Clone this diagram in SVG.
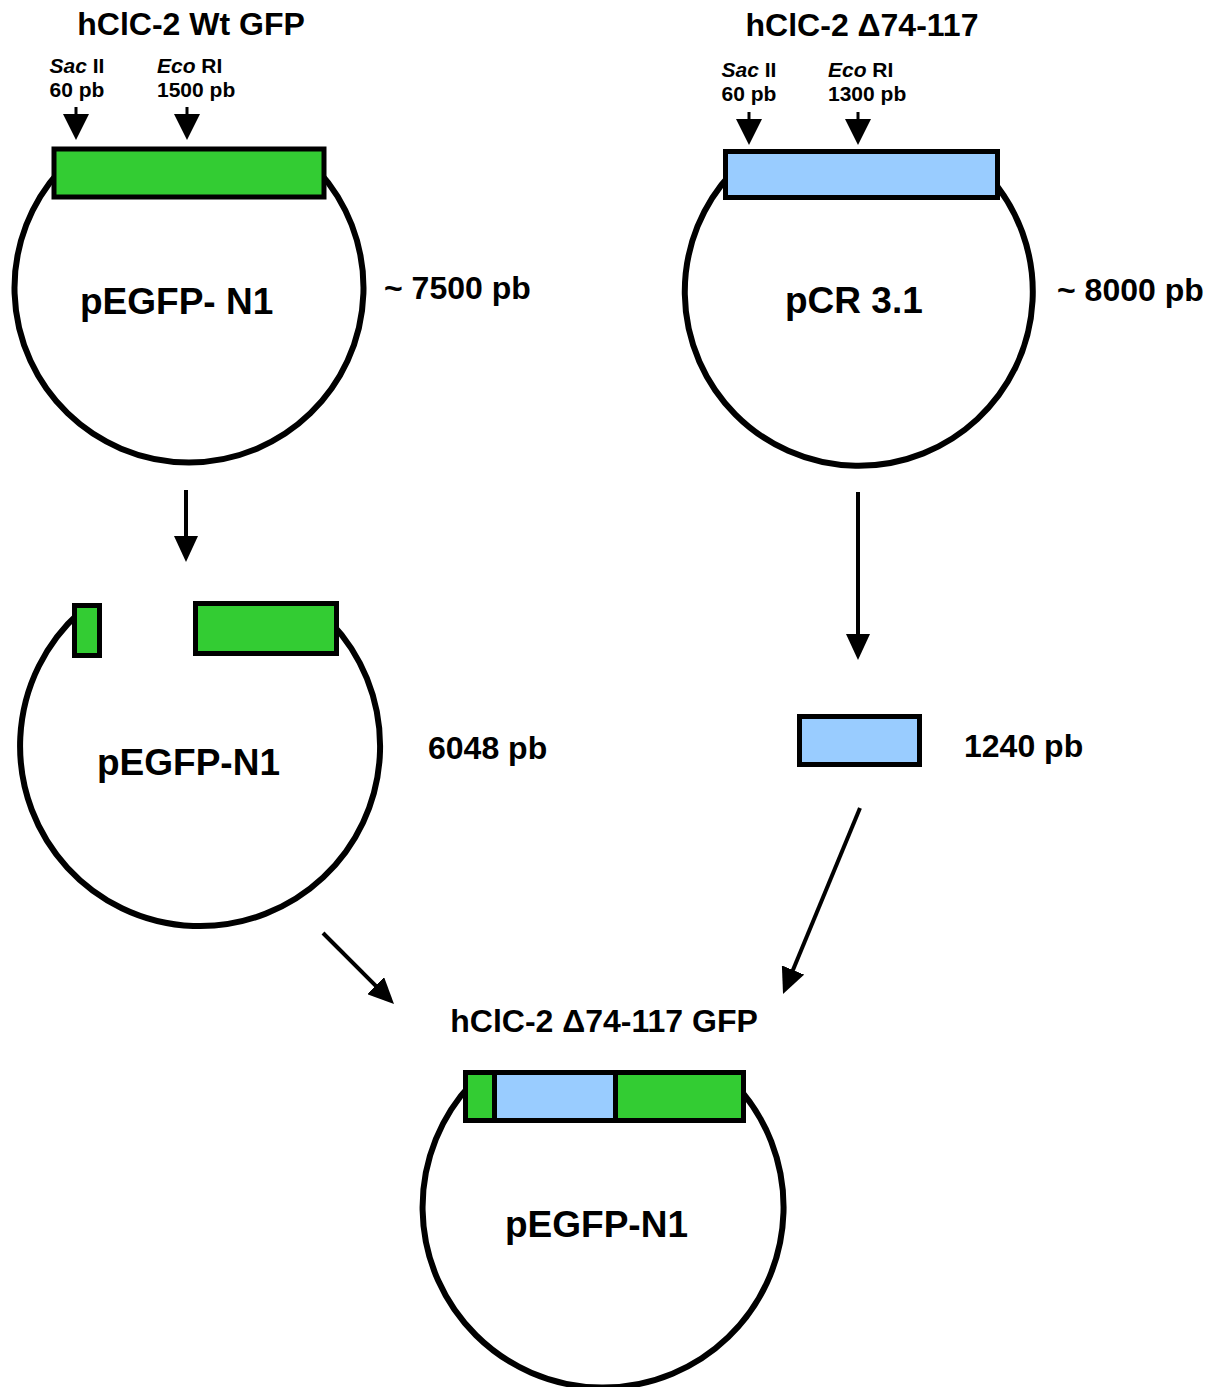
<svg xmlns="http://www.w3.org/2000/svg" width="1214" height="1387" viewBox="0 0 1214 1387">
<style>
.plasmid{fill:none;stroke:#000;stroke-width:6}
.gfp{fill:#33CC33;stroke:#000;stroke-width:5}
.ins{fill:#99CCFF;stroke:#000;stroke-width:5}
.t{font-family:"Liberation Sans",Arial,sans-serif;font-weight:bold;fill:#000}
.big{font-size:37px}
.lab{font-size:32px}
.sm{font-size:21px}
.arr{stroke:#000;stroke-width:4;fill:none}
.sarr{stroke:#000;stroke-width:3;fill:none}
</style>
<defs>
<marker id="ah" viewBox="0 0 26 24" refX="13" refY="12" markerWidth="26" markerHeight="24" markerUnits="userSpaceOnUse" orient="auto"><path d="M0,0 L26,12 L0,24 z" fill="#000"/></marker>
<marker id="sah" viewBox="0 0 26 26" refX="13" refY="13" markerWidth="26" markerHeight="26" markerUnits="userSpaceOnUse" orient="auto"><path d="M0,0 L26,13 L0,26 z" fill="#000"/></marker>
</defs>

<g id="wt-plasmid">
<path class="plasmid" d="M60,170.4 A174.5,174.5 0 1 0 318,170.4"/>
<rect class="gfp" x="54" y="149" width="270" height="48"/>
<text class="t lab" x="191" y="35" text-anchor="middle">hClC-2 Wt GFP</text>
<text class="t sm" x="77" y="73" text-anchor="middle"><tspan font-style="italic">Sac</tspan> II</text>
<text class="t sm" x="77" y="97" text-anchor="middle">60 pb</text>
<text class="t sm" x="157" y="73"><tspan font-style="italic">Eco</tspan> RI</text>
<text class="t sm" x="157" y="97">1500 pb</text>
<text class="t big" x="80" y="314">pEGFP- N1</text>
<text class="t lab" x="384" y="299">~ 7500 pb</text>
</g>

<g id="del-plasmid">
<path class="plasmid" d="M732,172.6 A174,174 0 1 0 990,177.5"/>
<rect class="ins" x="725.5" y="151.5" width="272" height="46"/>
<text class="t lab" x="862" y="36" text-anchor="middle">hClC-2 Δ74-117</text>
<text class="t sm" x="749" y="77" text-anchor="middle"><tspan font-style="italic">Sac</tspan> II</text>
<text class="t sm" x="749" y="101" text-anchor="middle">60 pb</text>
<text class="t sm" x="828" y="77"><tspan font-style="italic">Eco</tspan> RI</text>
<text class="t sm" x="828" y="101">1300 pb</text>
<text class="t big" x="785" y="313">pCR 3.1</text>
<text class="t lab" x="1057" y="301">~ 8000 pb</text>
</g>

<g id="cut-vector">
<path class="plasmid" d="M80,612 A180,180 0 1 0 330,621.5"/>
<rect class="gfp" x="74.5" y="605.5" width="25" height="50"/>
<rect class="gfp" x="195.5" y="603.5" width="141" height="50"/>
<text class="t big" x="97" y="775">pEGFP-N1</text>
<text class="t lab" x="428" y="759">6048 pb</text>
</g>

<g id="insert">
<rect class="ins" x="799.5" y="716.5" width="120" height="48"/>
<text class="t lab" x="964" y="757">1240 pb</text>
</g>

<g id="product">
<text class="t lab" x="604" y="1032" text-anchor="middle">hClC-2 Δ74-117 GFP</text>
<path class="plasmid" d="M472,1083 A180.5,180.5 0 1 0 736,1085"/>
<rect class="gfp" x="465.5" y="1072.5" width="278" height="48"/>
<rect class="ins" x="494.5" y="1072.5" width="121" height="48"/>
<text class="t big" x="505" y="1237">pEGFP-N1</text>
</g>

<g id="connectors">
<line class="sarr" x1="76" y1="107" x2="76" y2="127" marker-end="url(#sah)"/>
<line class="sarr" x1="187" y1="107" x2="187" y2="127" marker-end="url(#sah)"/>
<line class="sarr" x1="749" y1="112" x2="749" y2="132" marker-end="url(#sah)"/>
<line class="sarr" x1="858" y1="112" x2="858" y2="132" marker-end="url(#sah)"/>
<line class="arr" x1="186" y1="490" x2="186" y2="549" marker-end="url(#ah)"/>
<line class="arr" x1="858" y1="492" x2="858" y2="647" marker-end="url(#ah)"/>
<line class="arr" x1="323" y1="933" x2="384.8" y2="994.8" marker-end="url(#ah)"/>
<line class="arr" x1="860" y1="808" x2="788" y2="982" marker-end="url(#ah)"/>
</g>
</svg>
